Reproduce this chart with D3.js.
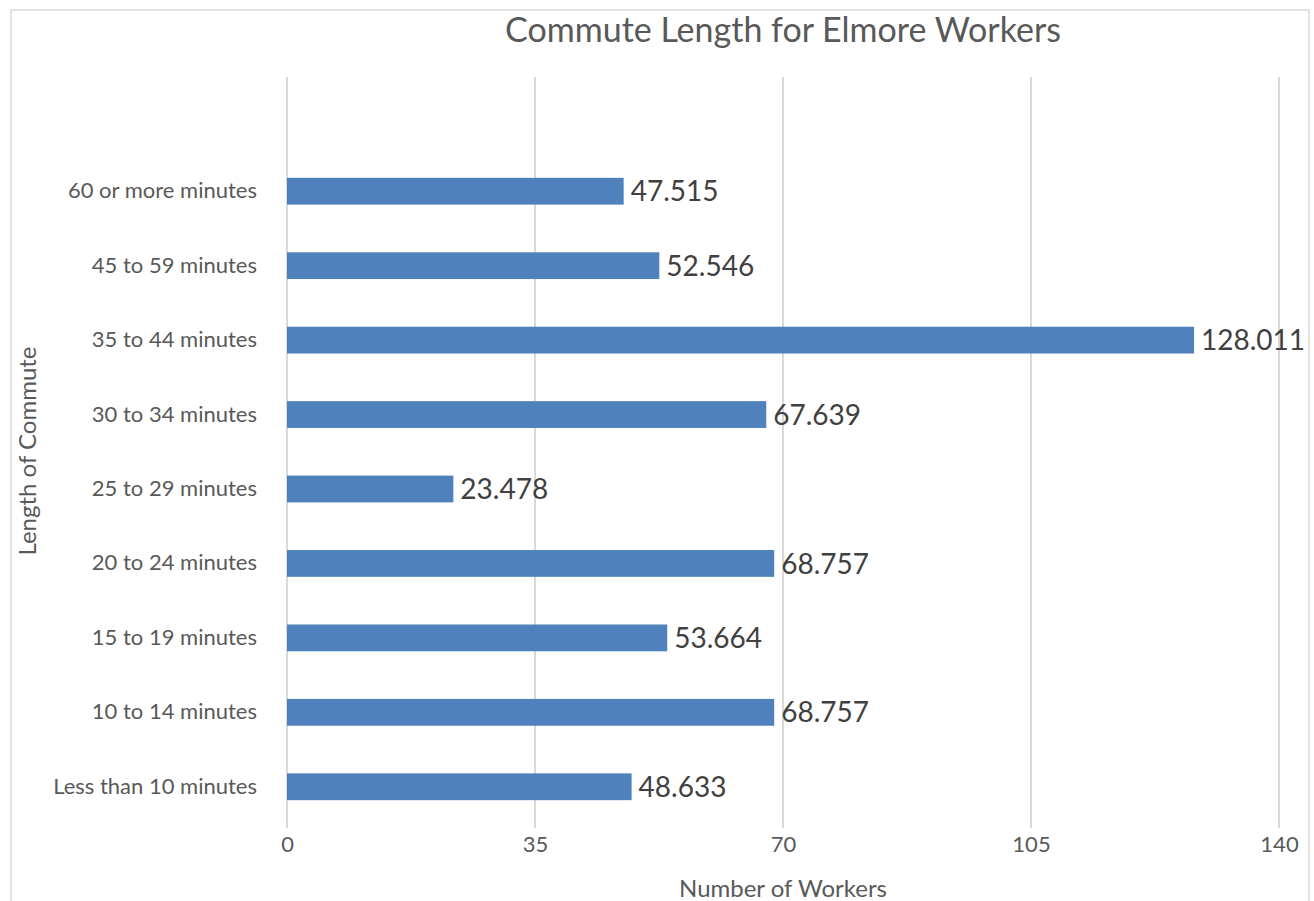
<!DOCTYPE html>
<html>
<head>
<meta charset="utf-8">
<script src="https://cdn.jsdelivr.net/npm/d3@7"></script>
<style>
  body { margin: 0; background: #fff; }
  svg { display: block; font-family: Lato, "Noto Sans", sans-serif; }
</style>
</head>
<body>
<svg id="chart" width="1314" height="901"></svg>
<script>
// Commute length categories (bottom to top) and worker counts
const categories = [
  "Less than 10 minutes", "10 to 14 minutes", "15 to 19 minutes",
  "20 to 24 minutes", "25 to 29 minutes", "30 to 34 minutes",
  "35 to 44 minutes", "45 to 59 minutes", "60 or more minutes"
];
const workers = [48.633, 68.757, 53.664, 68.757, 23.478, 67.639, 128.011, 52.546, 47.515];
const xTicks = [0, 35, 70, 105, 140];

const svg = d3.select("#chart");

// Chart frame
svg.append("rect")
  .attr("x", 11).attr("y", 10)
  .attr("width", 1298).attr("height", 910)
  .attr("fill", "#fff").attr("stroke", "#d9d9d9").attr("stroke-width", 1.5);

const x = d3.scaleLinear().domain([0, 140]).range([287, 1279]);
const y = d3.scaleBand()
  .domain(categories.slice().reverse())
  .range([154, 824])
  .paddingInner(0.64).paddingOuter(0.32);

const gridTop = 77, gridBottom = 828;

// Vertical gridlines
svg.append("g").selectAll("line").data(xTicks).join("line")
  .attr("x1", d => x(d)).attr("x2", d => x(d))
  .attr("y1", gridTop).attr("y2", gridBottom)
  .attr("stroke", "#d9d9d9").attr("stroke-width", 2);

// X axis tick labels
const xAxis = d3.axisBottom(x).tickValues(xTicks).tickSize(0).tickPadding(0);
const gx = svg.append("g").attr("transform", `translate(0,${gridBottom + 8})`).call(xAxis);
gx.select(".domain").remove();
gx.selectAll("text")
  .attr("dy", "0.71em")
  .attr("font-size", 22).attr("fill", "#595959")
  .attr("font-family", "Lato, sans-serif");

// Y axis category labels
const yAxis = d3.axisLeft(y).tickSize(0).tickPadding(0);
const gy = svg.append("g").attr("transform", `translate(257,0)`).call(yAxis);
gy.select(".domain").remove();
gy.selectAll("text")
  .attr("font-size", 22).attr("fill", "#595959")
  .attr("font-family", "Lato, sans-serif");

// Bars
svg.append("g").selectAll("rect").data(categories).join("rect")
  .attr("x", x(0))
  .attr("y", d => y(d))
  .attr("width", (d, i) => x(workers[i]) - x(0))
  .attr("height", y.bandwidth())
  .attr("fill", "#4f81bd");

// Value labels
svg.append("g").selectAll("text").data(categories).join("text")
  .attr("x", (d, i) => x(workers[i]) + 7)
  .attr("y", d => y(d) + y.bandwidth() / 2)
  .attr("dy", "0.36em")
  .attr("font-size", 28).attr("fill", "#404040")
  .text((d, i) => d3.format(".3f")(workers[i]));

// Title
svg.append("text")
  .attr("x", 783).attr("y", 42)
  .attr("text-anchor", "middle")
  .attr("font-size", 34).attr("fill", "#595959")
  .text("Commute Length for Elmore Workers");

// Axis titles
svg.append("text")
  .attr("x", 783).attr("y", 897)
  .attr("text-anchor", "middle")
  .attr("font-size", 24).attr("fill", "#595959")
  .text("Number of Workers");

svg.append("text")
  .attr("transform", "translate(36,451) rotate(-90)")
  .attr("text-anchor", "middle")
  .attr("font-size", 24).attr("fill", "#595959")
  .text("Length of Commute");
</script>
</body>
</html>
